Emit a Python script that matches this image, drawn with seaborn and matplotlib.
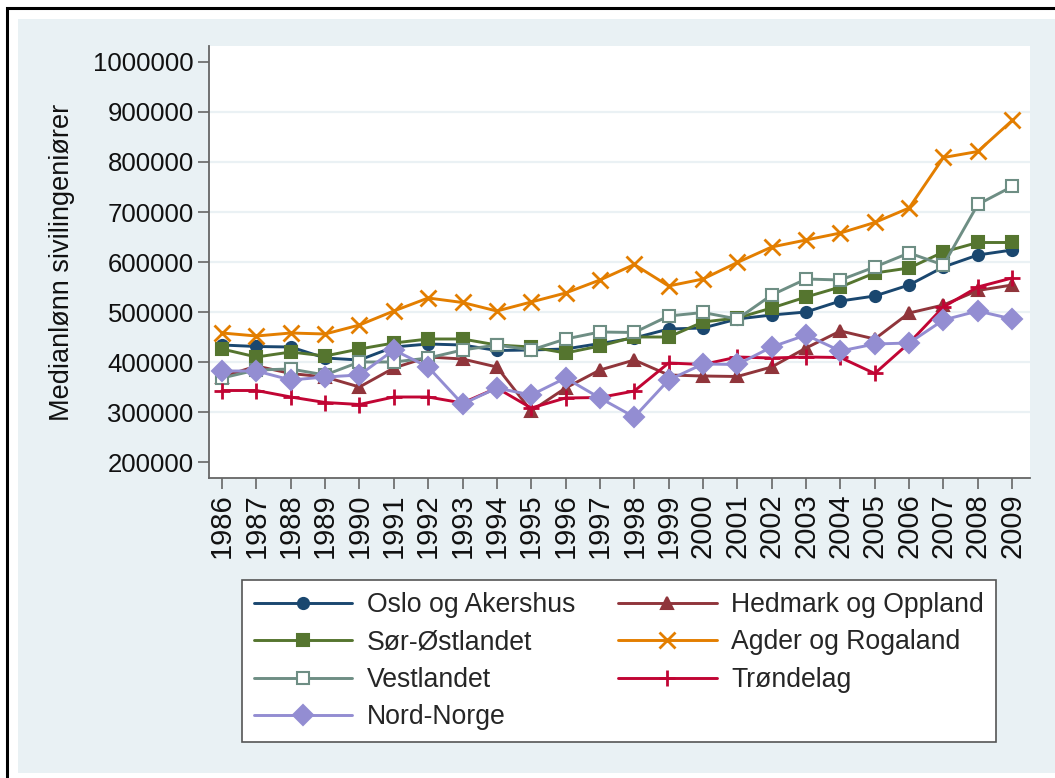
import pandas as pd
import seaborn as sns
import matplotlib
matplotlib.use("Agg")
import matplotlib.pyplot as plt
import matplotlib.ticker as mticker
from matplotlib.patches import Rectangle

# Data
years = list(range(1986, 2010))

oslo = [434000, 431000, 430000, 408000, 404000, 430000, 436000, 434000, 423000, 424000, 426000, 437000,
        448000, 466000, 468000, 486000, 494000, 500000, 522000, 532000, 554000, 590000, 614000, 624000]
hedmark = [370000, 392000, 377000, 370000, 350000, 388000, 410000, 406000, 390000, 302000, 348000, 384000,
           404000, 374000, 372000, 371000, 390000, 428000, 462000, 446000, 498000, 514000, 543000, 554000]
sor_ostlandet = [426000, 410000, 420000, 412000, 426000, 438000, 446000, 446000, 434000, 430000, 418000, 432000,
                 450000, 450000, 480000, 488000, 508000, 530000, 550000, 578000, 588000, 620000, 639000, 639000]
agder = [458000, 452000, 458000, 456000, 474000, 502000, 528000, 519000, 502000, 520000, 538000, 564000,
         595000, 552000, 566000, 599000, 630000, 644000, 658000, 679000, 708000, 809000, 821000, 883000]
vestlandet = [368000, 384000, 386000, 374000, 400000, 400000, 408000, 424000, 434000, 424000, 446000, 460000,
              459000, 492000, 499000, 486000, 534000, 566000, 564000, 590000, 618000, 594000, 715000, 751000]
trondelag = [343000, 343000, 330000, 319000, 315000, 330000, 330000, 318000, 348000, 308000, 328000, 329000,
             342000, 398000, 395000, 410000, 408000, 410000, 409000, 377000, 438000, 510000, 550000, 568000]
nord_norge = [382000, 382000, 364000, 370000, 374000, 424000, 390000, 316000, 348000, 334000, 368000, 328000,
              290000, 364000, 396000, 395000, 430000, 454000, 422000, 436000, 438000, 484000, 502000, 486000]

region_names = ["Oslo og Akershus", "Hedmark og Oppland", "Sør-Østlandet", "Agder og Rogaland",
                "Vestlandet", "Trøndelag", "Nord-Norge"]
region_values = [oslo, hedmark, sor_ostlandet, agder, vestlandet, trondelag, nord_norge]

y_ticks = list(range(200000, 1000001, 100000))

# Stata s2color look
farger = ["#1a476f", "#90353b", "#55752f", "#e37e00", "#6e8e84", "#c10534", "#938dd2"]
markorer = ["o", "^", "s", "x", "s", "+", "D"]
storrelse = [8, 9, 9, 11, 9, 12, 10]
fyll = [True, True, True, True, False, True, True]

df = pd.DataFrame({"År": years})
for navn, verdier in zip(region_names, region_values):
    df[navn] = verdier

sns.set_style("ticks")
plt.rcParams["font.family"] = ["Liberation Sans", "DejaVu Sans"]

W, H = 1055, 778
fig = plt.figure(figsize=(W / 100, H / 100), dpi=100, facecolor="white")

# bakgrunn og ramme
fig.add_artist(Rectangle((18 / W, 5 / H), 1.0, 754 / H, transform=fig.transFigure,
                         facecolor="#e9f1f4", edgecolor="none", zorder=-10))
fig.add_artist(Rectangle((7 / W, -0.1), 1.2, 1.1 - 8 / H, transform=fig.transFigure,
                         facecolor="none", edgecolor="black", lw=2.2, zorder=-9))

ax = fig.add_axes([209 / W, 1 - 478 / H, (1030 - 209) / W, (478 - 46) / H])
ax.set_facecolor("white")

linjer = {}
for navn, farge, mk, ms, fylt in zip(region_names, farger, markorer, storrelse, fyll):
    sns.lineplot(data=df, x="År", y=navn, ax=ax, color=farge, lw=2.1,
                 marker=mk, markersize=ms, markeredgewidth=2.0 if mk in ("x", "+") else 1.5,
                 markerfacecolor=farge if fylt else "white", markeredgecolor=farge,
                 label=navn, legend=False)
    linjer[navn] = ax.lines[-1]

ax.set_xlim(1985.62, 2009.52)
ax.set_ylim(168000, 1032000)
ax.set_xticks(years)
ax.set_yticks(y_ticks)
ax.yaxis.set_major_formatter(mticker.FuncFormatter(lambda v, _p: f"{v:.0f}"))
ax.tick_params(axis="x", rotation=90, labelsize=21, length=8, width=1.2, color="#666666",
               labelcolor="#111111", pad=3)
ax.tick_params(axis="y", labelsize=18.5, length=8, width=1.2, color="#666666",
               labelcolor="#111111", pad=3)

ax.set_xlabel("")
ax.set_ylabel("Medianlønn sivilingeniører", fontsize=19.5, color="#111111", labelpad=13)

ax.yaxis.grid(True, color="#eaf1f4", lw=1.6)
grid = ax.get_ygridlines()
grid[0].set_visible(False)
grid[-1].set_visible(False)

for side in ["top", "right"]:
    ax.spines[side].set_visible(False)
for side in ["left", "bottom"]:
    ax.spines[side].set_color("#666666")
    ax.spines[side].set_linewidth(1.3)

# legenden fylles kolonnevis i matplotlib
rekkefolge = ["Oslo og Akershus", "Sør-Østlandet", "Vestlandet", "Nord-Norge",
              "Hedmark og Oppland", "Agder og Rogaland", "Trøndelag"]
leg = ax.legend([linjer[n] for n in rekkefolge], rekkefolge, ncol=2,
                loc="upper center", bbox_to_anchor=(619 / W, 1 - 580 / H),
                bbox_transform=fig.transFigure, borderaxespad=0,
                fontsize=19.2, handlelength=3.7, handletextpad=0.55, columnspacing=1.6,
                labelspacing=0.43, borderpad=0.45, frameon=True, fancybox=False)
leg.get_frame().set_edgecolor("#555555")
leg.get_frame().set_linewidth(1.2)
leg.get_frame().set_facecolor("white")
leg.get_frame().set_alpha(1)

fig.savefig("out.png", dpi=100, facecolor=fig.get_facecolor())
